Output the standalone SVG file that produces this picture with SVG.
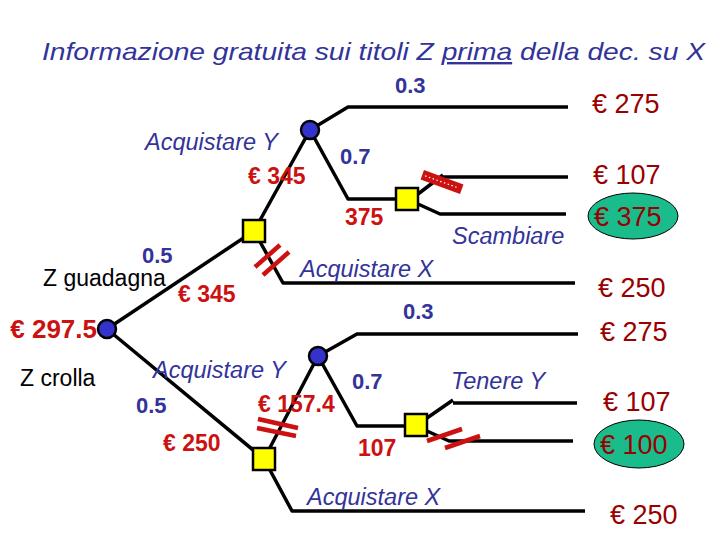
<svg xmlns="http://www.w3.org/2000/svg" width="720" height="540" viewBox="0 0 720 540">
<style>
text{font-family:"Liberation Sans",Arial,sans-serif}
.t{fill:#333399;font-style:italic;font-size:24px}
.lab{fill:#333399;font-style:italic;font-size:23.5px}
.p{fill:#333399;font-weight:bold;font-size:22px}
.v{fill:#cc1111;font-weight:bold;font-size:23px}
.pay{fill:#990000;font-size:27px}
.blk{fill:#000;font-size:23px}
.ln{fill:none;stroke:#000;stroke-width:3.5;stroke-linejoin:round}
.sq{fill:#ffff00;stroke:#000;stroke-width:2.5}
.ci{fill:#3333cc;stroke:#000;stroke-width:2.5}
.bar{stroke:#cc1111;stroke-width:4.5}
.ell{fill:#1abc8c;stroke:#000;stroke-width:1}
</style>
<rect width="720" height="540" fill="#fff"/>
<text class="t" x="42" y="60" textLength="663" lengthAdjust="spacingAndGlyphs">Informazione gratuita sui titoli Z <tspan text-decoration="underline">prima</tspan> della dec. su X</text>

<g id="connectors">
<path class="ln" d="M107,329 L254,231"/>
<path class="ln" d="M107,329 L264,459"/>
<path class="ln" d="M254,231 L310,130"/>
<path class="ln" d="M310,130 L348,107 L568,107"/>
<path class="ln" d="M310,130 L348,199 L406,199"/>
<path class="ln" d="M418,194 L443,175 M443,177 L568,177"/>
<path class="ln" d="M418,204 L440,214 L566,214"/>
<path class="ln" d="M254,231 L283,283 L575,283"/>
<path class="ln" d="M264,459 L318,356"/>
<path class="ln" d="M318,356 L357,334 L578,334"/>
<path class="ln" d="M318,356 L357,426 L415,426"/>
<path class="ln" d="M427,418 L453,400 M453,403 L577,403"/>
<path class="ln" d="M427,431 L449,441 L573,441"/>
<path class="ln" d="M264,459 L292,511 L585,511"/>
</g>

<g id="cuts">
<g transform="translate(442,182) rotate(20)">
<rect x="-21" y="-5" width="42" height="10" fill="#cc1111"/>
<line x1="-18" y1="0" x2="18" y2="0" stroke="#fff" stroke-width="1.2" stroke-dasharray="1.5,2.5"/>
</g>
<line class="bar" x1="255" y1="267" x2="280" y2="245"/>
<line class="bar" x1="263" y1="275" x2="289" y2="252"/>
<line class="bar" x1="258" y1="419" x2="298" y2="428"/>
<line class="bar" x1="257" y1="428" x2="296" y2="436"/>
<line class="bar" x1="427" y1="441" x2="462" y2="429"/>
<line class="bar" x1="445" y1="448" x2="480" y2="436"/>
</g>

<g id="root"><circle class="ci" cx="107" cy="329" r="9"/></g>
<g id="chanceY1"><circle class="ci" cx="310" cy="130" r="9"/></g>
<g id="chanceY2"><circle class="ci" cx="318" cy="356" r="9"/></g>
<g id="dec1"><rect class="sq" x="243" y="220" width="22" height="22"/></g>
<g id="dec2"><rect class="sq" x="396" y="188" width="22" height="22"/></g>
<g id="dec3"><rect class="sq" x="253" y="448" width="22" height="22"/></g>
<g id="dec4"><rect class="sq" x="405" y="414" width="22" height="22"/></g>

<g id="ell1"><ellipse class="ell" cx="633" cy="216" rx="45" ry="23"/></g>
<g id="ell2"><ellipse class="ell" cx="639" cy="444" rx="45" ry="24"/></g>

<g id="labels">
<text class="p" x="395" y="93">0.3</text>
<text class="lab" x="145" y="150">Acquistare Y</text>
<text class="v" x="248" y="184">€ 345</text>
<text class="p" x="340" y="164">0.7</text>
<text class="v" x="345" y="225">375</text>
<text class="lab" x="452" y="244">Scambiare</text>
<text class="lab" x="300" y="277">Acquistare X</text>
<text class="p" x="142" y="263">0.5</text>
<text class="blk" x="43" y="286">Z guadagna</text>
<text class="v" x="178" y="302">€ 345</text>
<text class="v" x="97" y="338" text-anchor="end" style="font-size:26px">€ 297.5</text>
<text class="p" x="403" y="319">0.3</text>
<text class="blk" x="20" y="386">Z crolla</text>
<text class="lab" x="153" y="378">Acquistare Y</text>
<text class="p" x="136" y="413">0.5</text>
<text class="v" x="258" y="412">€ 157.4</text>
<text class="p" x="352" y="389">0.7</text>
<text class="v" x="163" y="451">€ 250</text>
<text class="v" x="358" y="456">107</text>
<text class="lab" x="451" y="389">Tenere Y</text>
<text class="lab" x="307" y="505">Acquistare X</text>

<text class="pay" x="592" y="113">€ 275</text>
<text class="pay" x="593" y="184">€ 107</text>
<text class="pay" x="594" y="226">€ 375</text>
<text class="pay" x="598" y="297">€ 250</text>
<text class="pay" x="600" y="341">€ 275</text>
<text class="pay" x="603" y="411">€ 107</text>
<text class="pay" x="600" y="454">€ 100</text>
<text class="pay" x="610" y="524">€ 250</text>
</g>
</svg>
